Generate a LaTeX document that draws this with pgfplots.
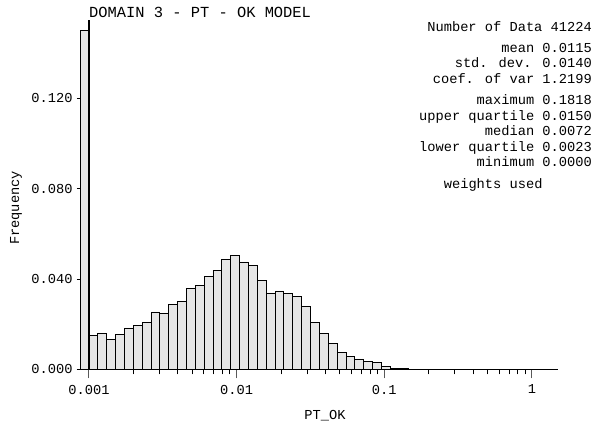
\documentclass[border=0pt]{standalone}
\usepackage{fontspec}
\setmainfont{Liberation Mono}
\usepackage{pgfplots}
\pgfplotsset{compat=1.18}

\definecolor{barfill}{RGB}{230,230,230}
\newcommand{\statfont}{\fontsize{13.7}{15}\selectfont}
\newcommand{\titlefont}{\fontsize{15.4}{17}\selectfont}

% histogram classes: log-spaced, 0.06 decade wide; first class = values below 0.001
\pgfplotstableread{
x        f
0.000871 0.1500
0.001000 0.0150
0.001148 0.0159
0.001318 0.0133
0.001514 0.0155
0.001738 0.0183
0.001995 0.0193
0.002291 0.0206
0.002630 0.0254
0.003020 0.0248
0.003467 0.0288
0.003981 0.0302
0.004571 0.0358
0.005248 0.0372
0.006026 0.0410
0.006918 0.0439
0.007943 0.0488
0.009120 0.0504
0.010471 0.0475
0.012023 0.0461
0.013804 0.0395
0.015849 0.0338
0.018197 0.0347
0.020893 0.0335
0.023988 0.0323
0.027542 0.0279
0.031623 0.0208
0.036308 0.0159
0.041687 0.0115
0.047863 0.0075
0.054954 0.0056
0.063096 0.0046
0.072444 0.0034
0.083176 0.0029
0.095499 0.0014
0.109648 0.0004
0.125893 0.0002
0.144544 0.0001
0.165959 0.0000
}\histdata

\begin{document}
\begin{tikzpicture}
\path[use as bounding box] (-77pt,-59.7pt) rectangle (523pt,369.3pt);
\begin{axis}[
    at={(0pt,0pt)}, anchor=south west,
    scale only axis,
    width=481pt, height=349.3pt,
    xmode=log,
    xmin=0.00083, xmax=1.5,
    ymin=0, ymax=0.1546,
    axis x line=bottom, axis y line=left,
    x axis line style={-, line width=0.8pt},
    y axis line style={draw=none},
    tick align=outside,
    major tick length=9pt, minor tick length=5pt,
    xtick={0.001,0.01,0.1,1},
    xticklabels={0.001,0.01,0.1,1},
    minor xtick={0.002,0.003,0.004,0.005,0.006,0.007,0.008,0.009,
                 0.02,0.03,0.04,0.05,0.06,0.07,0.08,0.09,
                 0.2,0.3,0.4,0.5,0.6,0.7,0.8,0.9},
    major x tick style={line width=1pt, black!65},
    minor x tick style={line width=0.8pt, black},
    ytick={0,0.04,0.08,0.12},
    yticklabels={0.000,0.040,0.080,0.120},
    ytick style={draw=none},
    tick label style={font=\statfont},
    xticklabel style={yshift=-3pt},
    yticklabel style={xshift=8pt},
    xlabel={PT\_OK},
    ylabel={Frequency},
    label style={font=\statfont},
    xlabel style={at={(axis description cs:0.5156,-0.1337)}, anchor=center},
    ylabel style={at={(axis description cs:-0.1268,0.462)}, anchor=center},
    clip=false,
  ]
  \addplot[ybar interval, draw=black, line width=0.8pt, fill=barfill, mark=none]
    table[x=x, y=f] {\histdata};
  \draw[line width=1.2pt] (axis cs:0.001,0) -- (axis cs:0.001,0.1546);
  \pgfplotsinvokeforeach{0,0.04,0.08,0.12}{
    \draw[line width=0.8pt] (axis cs:0.00083,#1) -- ++(3pt,0pt);
  }
\end{axis}
\node[anchor=base west, font=\titlefont, inner sep=0pt] at (12pt,351.8pt) {DOMAIN 3 - PT - OK MODEL};
\begin{scope}[every node/.style={anchor=base east, font=\statfont, inner sep=0pt}]
  \node at (515pt,338.0pt) {Number of Data 41224};
  \node at (515pt,317.0pt) {mean 0.0115};
  \node at (515pt,301.5pt) {std. dev. 0.0140};
  \node at (515pt,286.0pt) {coef. of var 1.2199};
  \node at (515pt,264.5pt) {maximum 0.1818};
  \node at (515pt,249.0pt) {upper quartile 0.0150};
  \node at (515pt,233.5pt) {median 0.0072};
  \node at (515pt,218.0pt) {lower quartile 0.0023};
  \node at (515pt,202.5pt) {minimum 0.0000};
  \node at (465.7pt,181.0pt) {weights used};
\end{scope}
\end{tikzpicture}
\end{document}
